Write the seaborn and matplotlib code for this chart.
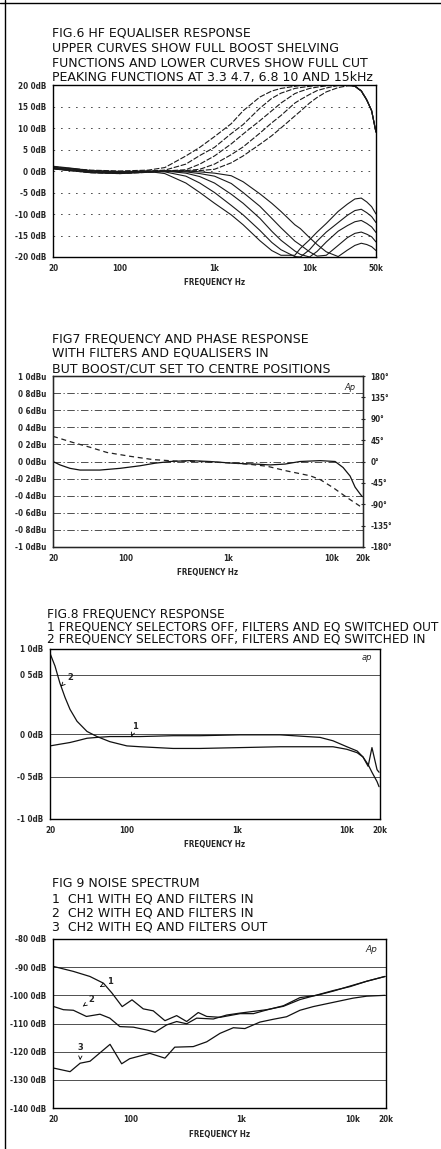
import matplotlib
matplotlib.use('Agg')
import matplotlib.pyplot as plt
import seaborn as sns
from matplotlib.lines import Line2D
from matplotlib.ticker import FixedLocator, NullLocator

sns.set_style('white')
plt.rcParams['font.family'] = ['DejaVu Sans']

# ---------------- FIG 6 : HF equaliser, 5 boost shelves + 5 cut peaks
fig6_freq = [20, 30, 50, 100, 200, 300, 500, 700, 1000, 1500, 2000, 3000, 4000,
             5000, 7000, 8000, 10000, 12000, 15000, 20000, 25000, 30000, 35000,
             40000, 45000, 50000]
boost_3k3 = [1.0, 0.6, 0.2, 0.0, 0.2, 0.8, 3.5, 5.5, 8, 11, 14, 17.2, 18.6, 19.2,
             19.7, 19.9, 20.0, 20.1, 20.2, 20.2, 20.1, 19.7, 18.6, 16.5, 14, 9]
boost_4k7 = [0.9, 0.5, 0.0, -0.2, 0.0, 0.2, 1.6, 3.6, 5.5, 8.7, 10.8, 14.6, 16.9,
             18.1, 19.2, 19.4, 19.7, 19.9, 20.1, 20.2, 20.1, 19.7, 18.6, 16.5, 14, 9]
boost_6k8 = [0.7, 0.3, -0.2, -0.4, -0.1, 0.0, 0.3, 1.6, 3.5, 6.3, 8.6, 11.7, 14.0,
             15.8, 18.0, 18.5, 19.2, 19.5, 19.8, 20.1, 20.1, 19.7, 18.6, 16.5, 14, 9]
boost_10k = [0.6, 0.2, -0.3, -0.5, -0.2, 0.0, 0.1, 0.4, 1.6, 3.8, 5.6, 8.8, 11.2,
             12.9, 15.8, 16.6, 17.8, 18.7, 19.3, 19.9, 20.0, 19.7, 18.6, 16.5, 14, 9]
boost_15k = [0.5, 0.1, -0.4, -0.6, -0.3, -0.1, 0.0, 0.1, 0.4, 1.9, 3.5, 6.2, 8.2,
             10.0, 12.8, 13.9, 15.8, 17.1, 18.4, 19.4, 19.8, 19.8, 18.7, 16.6, 14, 9]
cut_3k3 = [1.1, 0.7, 0.1, -0.1, -0.1, -0.6, -2.8, -5, -7.5, -10.2, -12.5, -16.2,
           -18.5, -19.6, -19.6, -18, -16, -14.2, -12.2, -9.4, -7.7, -6.5, -6.3,
           -7.2, -8.3, -10]
cut_4k7 = [0.9, 0.5, 0.0, -0.2, 0.0, -0.2, -1.2, -2.8, -5, -8, -10.2, -13.8, -16.6,
           -18.3, -19.9, -20, -18.3, -16.3, -14.2, -12, -10.3, -9.2, -8.9, -9.7,
           -10.6, -12]
cut_6k8 = [0.7, 0.3, -0.2, -0.4, -0.1, 0.0, -0.5, -1.3, -2.8, -5.4, -7.5, -11, -14,
           -16.1, -18.6, -19.4, -20, -18.7, -16.5, -14, -12.7, -11.8, -11.5, -12.2,
           -13, -14.3]
cut_10k = [0.6, 0.2, -0.3, -0.5, -0.2, 0.0, -0.2, -0.6, -1.2, -2.9, -5, -8.2, -11,
           -13.2, -16.3, -17.2, -18.8, -19.8, -19.6, -17.3, -15.5, -14.5, -14.2,
           -14.7, -15.3, -16.5]
cut_15k = [0.5, 0.1, -0.4, -0.6, -0.3, -0.1, 0.0, -0.2, -0.5, -1.1, -2.5, -5.3,
           -7.5, -9.4, -12.5, -13.4, -15.5, -17.1, -18.8, -19.9, -18.4, -17.3,
           -16.8, -17.1, -17.6, -18.5]

# ---------------- FIG 7 : amplitude (dBu) and phase (deg)
fig7_amp_freq = [20, 23.4, 29.2, 36.5, 57, 89, 139, 194, 272, 424, 662, 1105, 1805,
                 2520, 3525, 4920, 7690, 10740, 12830, 15000, 16770, 18760, 19640]
fig7_amp = [0.0, -0.04, -0.08, -0.1, -0.1, -0.08, -0.05, -0.02, 0.0, 0.01, 0.0,
            -0.02, -0.03, -0.04, -0.03, 0.0, 0.01, 0.0, -0.07, -0.17, -0.3, -0.38,
            -0.41]
fig7_phase_freq = [20, 31.2, 45.6, 66.6, 111, 186, 303, 530, 1034, 1614, 2359,
                   3682, 6150, 7690, 10270, 14030, 19590]
fig7_phase = [53, 40, 30, 19, 11, 4, 1, 0, -3, -6, -10, -20, -30, -38, -55, -76, -97]

# ---------------- FIG 8 : frequency response, two settings
fig8_freq = [20, 22.2, 24.6, 27.4, 30.4, 35.2, 43.4, 53.5, 70, 100, 132, 263, 462,
             1070, 2470, 5700, 7480, 10000, 12400, 14000, 15600, 16900, 18800, 19600]
fig8_curve1 = [-0.14, -0.13, -0.12, -0.11, -0.10, -0.08, -0.05, -0.04, -0.03, -0.03,
               -0.03, -0.02, -0.02, -0.01, -0.01, -0.04, -0.08, -0.15, -0.2, -0.27,
               -0.38, -0.16, -0.42, -0.45]
fig8_curve2 = [0.95, 0.80, 0.60, 0.43, 0.29, 0.15, 0.03, -0.03, -0.09, -0.14, -0.15,
               -0.17, -0.17, -0.16, -0.15, -0.15, -0.15, -0.18, -0.22, -0.27, -0.36,
               -0.45, -0.56, -0.62]

# ---------------- FIG 9 : noise spectrum
fig9_freq_1 = [20, 30.5, 43, 57, 68, 84, 103, 130, 160, 204, 260, 320, 407, 485, 640,
               970, 1280, 1680, 2380, 3360, 4750, 6700, 9500, 13400, 19600]
fig9_ch1_eq_in = [-89.7, -91.5, -93.3, -95.7, -99.2, -104, -101.6, -104.8, -105.5,
                  -109, -107.2, -109.3, -106.1, -107.5, -107.8, -106.5, -106.5,
                  -105.2, -103.7, -100.8, -100, -98.5, -96.7, -95, -93.3]
fig9_freq_2 = [20, 24.8, 30.5, 40, 53, 65, 80, 106, 140, 166, 211, 260, 320, 394, 556,
               734, 970, 1280, 1680, 2380, 3360, 4750, 6700, 9500, 13400, 19600]
fig9_ch2_eq_in = [-103.9, -105.1, -105.3, -107.5, -106.7, -108.1, -111.1, -111.3,
                  -112.3, -113.1, -110.5, -109.3, -110.1, -108.1, -108.4, -107.0,
                  -106.3, -105.7, -105.1, -103.9, -101.5, -99.9, -98.3, -96.9, -95,
                  -93.3]
fig9_freq_3 = [20.1, 28.5, 35.1, 43.1, 65.3, 83.1, 98.1, 149, 204, 250, 367, 485, 639,
               843, 1071, 1462, 1930, 2542, 3358, 4422, 5820, 7670, 10100, 13400, 19600]
fig9_ch2_eq_out = [-125.8, -127.1, -124.1, -123.4, -117.4, -124.3, -122.5, -120.6,
                   -122.3, -118.4, -118.2, -116.5, -113.5, -111.5, -111.8, -109.5,
                   -108.5, -107.6, -105.3, -104, -103, -102, -101, -100.3, -100]

# tick labels as printed (decimal points lost in the print)
fig6_yticks = [20, 15, 10, 5, 0, -5, -10, -15, -20]
fig6_ylabels = ['20 0dB', '15 0dB', '10 0dB', '5 0dB', '0 0dB', '-5 0dB', '-10 0dB',
                '-15 0dB', '-20 0dB']
fig6_xticks = [20, 100, 1000, 10000, 50000]
fig6_xlabels = ['20', '100', '1k', '10k', '50k']
fig7_yticks = [1.0, 0.8, 0.6, 0.4, 0.2, 0.0, -0.2, -0.4, -0.6, -0.8, -1.0]
fig7_ylabels = ['1 0dBu', '0 8dBu', '0 6dBu', '0 4dBu', '0 2dBu', '0 0dBu', '-0 2dBu',
                '-0 4dBu', '-0 6dBu', '-0 8dBu', '-1 0dBu']
fig7_phase_ticks = [180, 135, 90, 45, 0, -45, -90, -135, -180]
fig7_phase_labels = ['180°', '135°', '90°', '45°', '0°', '-45°', '-90°', '-135°', '-180°']
fig8_yticks = [1.0, 0.7, 0.0, -0.5, -1.0]   # the "0 5dB" rule sits high on the print
fig8_ylabels = ['1 0dB', '0 5dB', '0 0dB', '-0 5dB', '-1 0dB']
fig9_yticks = [-80, -90, -100, -110, -120, -130, -140]
fig9_ylabels = ['-80 0dB', '-90 0dB', '-100 0dB', '-110 0dB', '-120 0dB', '-130 0dB',
                '-140 0dB']
audio_xticks = [20, 100, 1000, 10000, 20000]
fig7_xlabels = ['20', '100', '1k', '10k', '20k']

W, H = 441, 1149
fig = plt.figure(figsize=(W / 100, H / 100), dpi=100)
fig.patch.set_facecolor('white')


def px_axes(left, right, top, bottom):
    return fig.add_axes([left / W, 1 - bottom / H, (right - left) / W, (bottom - top) / H])


tick_font = dict(family='DejaVu Sans', fontsize=5.8, fontweight='bold', fontstretch='condensed')
title_font = dict(family='DejaVu Sans', fontsize=9.0, color='#111111')


def style_axes(ax, xlim, ylim, xticks, xlabels, yticks, ylabels, grid_ls):
    ax.set_xscale('log')
    ax.set_xlim(*xlim)
    ax.set_ylim(*ylim)
    ax.xaxis.set_major_locator(FixedLocator(xticks))
    ax.xaxis.set_minor_locator(NullLocator())
    ax.set_xticklabels(xlabels, **tick_font)
    ax.set_yticks(yticks)
    ax.set_yticklabels(ylabels, **tick_font)
    ax.tick_params(length=0, pad=5)
    ax.set_xlabel('FREQUENCY Hz', labelpad=4, **tick_font)
    ax.set_ylabel('')
    ax.grid(axis='y', color='#333333', lw=0.6, linestyle=grid_ls)
    ax.grid(axis='x', visible=False)
    for s in ax.spines.values():
        s.set_color('black')
        s.set_linewidth(1.0)
    ax.set_facecolor('white')


def titles(lines, x, baselines, size=9.0):
    for txt, yb in zip(lines, baselines):
        fig.text(x / W, 1 - yb / H, txt, va='baseline', ha='left',
                 **{**title_font, 'fontsize': size})


# ---------------- FIG 6
ax1 = px_axes(53, 376, 85, 257)
# staggered dash offsets so the merged envelope near 20 dB reads as solid
for i, vals in enumerate([boost_3k3, boost_4k7, boost_6k8, boost_10k, boost_15k]):
    sns.lineplot(x=fig6_freq, y=vals, ax=ax1, color='#1a1a1a', lw=0.8,
                 linestyle=(i * 1.3, (5, 1.5)))
for vals in [cut_3k3, cut_4k7, cut_6k8, cut_10k, cut_15k]:
    sns.lineplot(x=fig6_freq, y=vals, ax=ax1, color='#1a1a1a', lw=0.8)
style_axes(ax1, (20, 50000), (-20, 20), fig6_xticks, fig6_xlabels,
           fig6_yticks, fig6_ylabels, (0, (2, 7)))
titles(['FIG.6 HF EQUALISER RESPONSE',
        'UPPER CURVES SHOW FULL BOOST SHELVING',
        'FUNCTIONS AND LOWER CURVES SHOW FULL CUT',
        'PEAKING FUNCTIONS AT 3.3 4.7, 6.8 10 AND 15kHz'], 52, [37, 52, 67, 81])

# ---------------- FIG 7
ax2 = px_axes(53, 363, 376, 547)
sns.lineplot(x=fig7_amp_freq, y=fig7_amp, ax=ax2, color='#111111', lw=0.9)
style_axes(ax2, (20, 20000), (-1.0, 1.0), audio_xticks, fig7_xlabels,
           fig7_yticks, fig7_ylabels, (0, (9, 3, 1.5, 3)))
ax2p = ax2.twinx()
sns.lineplot(x=fig7_phase_freq, y=fig7_phase, ax=ax2p, color='#222222', lw=0.9,
             linestyle=(0, (4, 3)))
ax2p.set_ylim(-180, 180)
ax2p.set_yticks(fig7_phase_ticks)
ax2p.set_yticklabels(fig7_phase_labels, **tick_font)
ax2p.set_ylabel('')
ax2p.tick_params(axis='y', length=3, direction='inout', width=0.8, pad=4)
ax2p.grid(False)
ax2.text(0.975, 0.93, 'Ap', transform=ax2.transAxes, ha='right', va='center',
         fontsize=6, style='italic')
titles(['FIG7 FREQUENCY AND PHASE RESPONSE',
        'WITH FILTERS AND EQUALISERS IN',
        'BUT BOOST/CUT SET TO CENTRE POSITIONS'], 52, [343, 357, 372])

# ---------------- FIG 8
ax3 = px_axes(50, 380, 649, 819)
sns.lineplot(x=fig8_freq, y=fig8_curve1, ax=ax3, color='#111111', lw=0.9)
sns.lineplot(x=fig8_freq, y=fig8_curve2, ax=ax3, color='#111111', lw=0.9)
style_axes(ax3, (20, 20000), (-1.0, 1.0), audio_xticks, fig7_xlabels,
           fig8_yticks, fig8_ylabels, '-')
ax3.annotate('2', xy=(25.2, 0.56), xytext=(28.5, 0.64), fontsize=6, fontweight='bold',
             arrowprops=dict(arrowstyle='->', lw=0.6, color='black'))
ax3.annotate('1', xy=(110, -0.03), xytext=(112, 0.06), fontsize=6, fontweight='bold',
             arrowprops=dict(arrowstyle='->', lw=0.6, color='black'))
ax3.text(0.975, 0.95, 'ap', transform=ax3.transAxes, ha='right', va='center',
         fontsize=6, style='italic')
titles(['FIG.8 FREQUENCY RESPONSE',
        '1 FREQUENCY SELECTORS OFF, FILTERS AND EQ SWITCHED OUT',
        '2 FREQUENCY SELECTORS OFF, FILTERS AND EQ SWITCHED IN'], 47,
       [617, 630, 643], size=8.7)

# ---------------- FIG 9
ax4 = px_axes(53, 386, 939, 1108)
sns.lineplot(x=fig9_freq_1, y=fig9_ch1_eq_in, ax=ax4, color='#111111', lw=0.9)
sns.lineplot(x=fig9_freq_2, y=fig9_ch2_eq_in, ax=ax4, color='#111111', lw=0.9)
sns.lineplot(x=fig9_freq_3, y=fig9_ch2_eq_out, ax=ax4, color='#111111', lw=0.9)
style_axes(ax4, (20, 20000), (-140, -80), audio_xticks, fig7_xlabels,
           fig9_yticks, fig9_ylabels, '-')
ax4.annotate('1', xy=(53, -97), xytext=(61, -96), fontsize=6, fontweight='bold',
             arrowprops=dict(arrowstyle='->', lw=0.6, color='black'))
ax4.annotate('2', xy=(35.5, -104.5), xytext=(42, -102.5), fontsize=6, fontweight='bold',
             arrowprops=dict(arrowstyle='->', lw=0.6, color='black'))
ax4.annotate('3', xy=(35, -124), xytext=(33.5, -119.5), fontsize=6, fontweight='bold',
             arrowprops=dict(arrowstyle='->', lw=0.6, color='black'))
ax4.text(0.975, 0.94, 'Ap', transform=ax4.transAxes, ha='right', va='center',
         fontsize=6.5, style='italic')
titles(['FIG 9 NOISE SPECTRUM',
        '1  CH1 WITH EQ AND FILTERS IN',
        '2  CH2 WITH EQ AND FILTERS IN',
        '3  CH2 WITH EQ AND FILTERS OUT'], 52, [887, 902, 916, 931])

# page frame seen on the scan (left and top edge)
fig.add_artist(Line2D([4.5 / W, 4.5 / W], [0, 1], transform=fig.transFigure,
                      color='black', lw=1.0))
fig.add_artist(Line2D([0, 1], [1 - 3 / H, 1 - 3 / H], transform=fig.transFigure,
                      color='black', lw=1.0))

fig.savefig('out.png', dpi=100, facecolor='white')
